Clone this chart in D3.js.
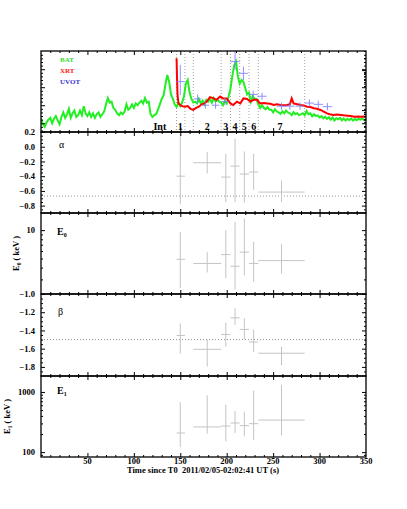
<!DOCTYPE html>
<html><head><meta charset="utf-8">
<script src="https://cdn.jsdelivr.net/npm/d3@7"></script>
<style>body{margin:0;background:#fff}svg{display:block}</style>
</head><body><svg id="c" width="407" height="509"></svg>
<script>
// ---------- data ----------
const batBin = 2; // s
const batRate = [1.25,0.95,0.8,1.05,1.2,1.3,1.0,1.25,1.4,1.15,0.95,
 1.35,1.6,1.3,1.5,1.8,1.3,1.55,1.7,1.35,1.45,
 1.7,1.45,1.95,1.55,1.4,1.6,1.35,1.55,1.3,1.5,
 1.6,1.35,1.5,1.65,2.05,2.4,2.15,2.2,1.85,1.75,
 1.55,1.45,1.6,1.5,1.65,2.05,1.75,1.85,2.05,1.85,
 2.1,2.0,2.15,2.25,2.1,2.4,2.15,2.2,1.5,1.35,
 1.45,1.5,1.75,2.05,2.35,2.55,3.15,3.68,3.3,2.6,
 2.35,2.05,1.9,2.15,1.95,2.15,2.5,3.2,3.4,2.7,
 2.35,2.15,2.2,2.1,2.35,2.1,2.25,2.05,2.3,2.2,
 2.35,2.15,2.4,2.2,2.3,2.2,2.15,2.0,2.25,2.1,
 2.48,2.9,3.6,4.2,4.42,3.6,3.2,3.4,3.3,2.94,
 2.6,2.7,2.2,2.5,2.35,2.35,2.05,1.85,2.0,1.85,
 1.78,1.9,1.75,1.75,1.6,1.78,1.65,1.6,1.52,1.66,
 1.55,1.7,1.6,1.55,1.45,1.62,1.5,1.55,1.44,1.5,
 1.56,1.45,1.68,1.5,1.55,1.38,1.5,1.4,1.44,1.32,
 1.4,1.27,1.36,1.24,1.33,1.2,1.32,1.15,1.28,1.22,
 1.3,1.16,1.27,1.15,1.25,1.17,1.27,1.15,1.24,1.17,
 1.25,1.2,1.26,1.17,1.22];

const xrtTime = [146,146.5,147,148,150,152,155,158,161,164,167,170,173,176,178.5,182,186,189,193,196,200,204,207,211,214.6,218,222,225.5,229,232.7,236,240,243.5,247,250.7,254,258,262,265,268,270,272,276,279.5,283,286.7,290,294,297,301,304,308,311,315,319,323,326,330,334,337,341,344,347,350];
const xrtRate = [4.61,3.5,2.6,2.1,2.01,1.95,1.92,1.95,1.8,1.74,1.85,1.92,2.05,2.1,2.2,2.45,2.38,2.3,2.48,2.38,2.38,2.1,2.01,2.2,2.1,2.38,2.35,2.2,2.3,2.3,2.1,2.12,2.1,2.08,2.01,2.05,2.01,2.0,2.01,2.05,2.38,2.1,2.05,2.01,1.98,1.92,1.9,1.83,1.8,1.74,1.66,1.55,1.5,1.46,1.48,1.46,1.44,1.42,1.4,1.36,1.38,1.36,1.37,1.36];

const uvotTime = [150,168.7,177,188,198,209,218,228.5,238,259,268,279,289,298.6,308.5];
const uvotTerr = [4.5,4,4,4,4,5,5,5,5,5,5,5,5,5,5];
const uvotRate = [3.31,2.35,2.0,2.0,2.2,4.42,3.77,2.6,2.5,1.95,1.95,1.95,2.12,2.05,1.92];
const uvotLo = [2.57,2.1,1.8,1.8,2.0,3.96,3.4,2.4,2.3,1.75,1.75,1.75,1.92,1.85,1.72];
const uvotHi = [4.24,2.6,2.2,2.2,2.4,5.0,4.15,2.8,2.7,2.15,2.15,2.15,2.32,2.25,2.12];

const intervalEdges = [146,155,164,194,204,214,224,234,284];
const intervalLabels = ["Int","1","2","3","4","5","6","7"];
const intervalLabelTime = [128,150,179,199,209,219,229,257.5];

const specTime = [150,179,199,209,219,229,259];
const specTlo = [146,164,194,204,214,224,234];
const specThi = [155,194,204,214,224,234,284];
const alpha = [-0.40,-0.218,-0.412,-0.263,-0.371,-0.344,-0.616];
const alphaLo = [-0.78,-0.363,-0.752,-0.752,-0.76,-0.585,-0.752];
const alphaHi = [0.163,-0.072,-0.099,0.109,-0.064,-0.095,-0.458];
const e0 = [4.9,4.43,5.5,4.14,5.84,4.43,4.75];
const e0Lo = [2.43,3.55,3.1,2.34,3.32,2.82,3.46];
const e0Hi = [9.6,5.84,10,12.2,13.3,7.5,7.1];
const beta = [-1.455,-1.607,-1.444,-1.262,-1.389,-1.527,-1.65];
const betaLo = [-1.654,-1.796,-1.578,-1.338,-1.498,-1.637,-1.782];
const betaHi = [-1.324,-1.498,-1.316,-1.157,-1.266,-1.389,-1.578];
const e1 = [208,262,272,305,275,297,341];
const e1Lo = [121,203,151,208,184,158,191];
const e1Hi = [676,883,611,481,468,1050,1303];

const alphaRef = -0.67, betaRef = -1.5;
const xTickVals = [50,100,150,200,250,300,350];
const alphaTicks = [0.2,0.0,-0.2,-0.4,-0.6,-0.8];
const betaTicks = [-1.0,-1.2,-1.4,-1.6,-1.8];
const e0Ticks = [10];
const e1Ticks = [100,1000];

// ---------- layout ----------
const svg = d3.select("#c");
const L = 41, R = 366;
const x = d3.scaleLinear().domain([0,350]).range([L,R]);
const panels = {
  top:[51,132], alpha:[132,213], e0:[213,294], beta:[294,376], e1:[376,457]
};
const font = "'Liberation Serif','DejaVu Serif',serif";
const gray = "#c4c4c4";

function xAxes(p){
  const [t,b] = panels[p];
  const minor = d3.range(10,350,10).filter(v=>v%50!==0);
  const major = [50,100,150,200,250,300];
  [[d3.axisBottom,b],[d3.axisTop,t]].forEach(([fn,y])=>{
    svg.append("g").attr("transform",`translate(0,${y})`)
      .call(fn(x).tickValues(major).tickSize(-4).tickFormat(""))
      .call(g=>g.select(".domain").remove());
    svg.append("g").attr("transform",`translate(0,${y})`)
      .call(fn(x).tickValues(minor).tickSize(-2).tickFormat(""))
      .call(g=>g.select(".domain").remove());
  });
}
function yAxes(p, y, major, minor, fmt, labels){
  [[d3.axisLeft,L],[d3.axisRight,R]].forEach(([fn,xx],i)=>{
    const g1 = svg.append("g").attr("transform",`translate(${xx},0)`)
      .call(fn(y).tickValues(major).tickSize(-4).tickPadding(6).tickFormat(i===0&&labels?fmt:""))
      .call(g=>g.select(".domain").remove());
    g1.selectAll("text").attr("font-family",font).attr("font-weight","bold").attr("font-size",8.5).attr("fill","#000");
    svg.append("g").attr("transform",`translate(${xx},0)`)
      .call(fn(y).tickValues(minor).tickSize(-2).tickFormat(""))
      .call(g=>g.select(".domain").remove());
  });
}

// ---------- top panel ----------
const yTop = d3.scaleLinear().domain([0.57,5.01]).range([131,51]);
const yTopR = d3.scaleLog().domain([0.3,30]).range([131,51]);
svg.append("clipPath").attr("id","clipTop").append("rect")
  .attr("x",L).attr("y",51).attr("width",R-L).attr("height",81);
const gTop = svg.append("g").attr("clip-path","url(#clipTop)");

gTop.selectAll("line.iv").data(intervalEdges).join("line")
  .attr("x1",d=>x(d)).attr("x2",d=>x(d)).attr("y1",51).attr("y2",132)
  .attr("stroke","#777").attr("stroke-width",0.7).attr("stroke-dasharray","1,2");

const batLine = d3.line().x((d,i)=>x(i*batBin)).y(d=>yTop(d));
gTop.append("path").datum(batRate).attr("d",batLine)
  .attr("fill","none").attr("stroke","#22ee22").attr("stroke-width",2);

const xrtLine = d3.line().x((d,i)=>x(xrtTime[i])).y(d=>yTop(d));
gTop.append("path").datum(xrtRate).attr("d",xrtLine)
  .attr("fill","none").attr("stroke","#ff0000").attr("stroke-width",2);

const uv = gTop.append("g").attr("stroke","#7c7cff").attr("stroke-width",1).attr("opacity",0.85);
uvotTime.forEach((t,i)=>{
  uv.append("line").attr("x1",x(t-uvotTerr[i])).attr("x2",x(t+uvotTerr[i]))
    .attr("y1",yTop(uvotRate[i])).attr("y2",yTop(uvotRate[i]));
  uv.append("line").attr("x1",x(t)).attr("x2",x(t))
    .attr("y1",yTop(uvotLo[i])).attr("y2",yTop(uvotHi[i]));
});

svg.selectAll("text.iv").data(intervalLabels).join("text")
  .attr("x",(d,i)=>x(intervalLabelTime[i])).attr("y",130)
  .attr("text-anchor","middle").attr("font-family",font).attr("font-weight","bold")
  .attr("font-size",10).text(d=>d);

const legend = [["BAT","#33dd33"],["XRT","#ff2020"],["UVOT","#3535d0"]];
legend.forEach(([t,c],i)=>{
  svg.append("text").attr("x",60).attr("y",62+i*11).attr("fill",c)
    .attr("font-family",font).attr("font-weight","bold").attr("font-size",7).text(t);
});

xAxes("top");
yAxes("top", yTop, [1,2,3,4], d3.range(0.6,5.0,0.2).filter(v=>Math.abs(v-Math.round(v))>0.05), null, false);
svg.append("g").attr("transform",`translate(${R},0)`)
  .call(d3.axisLeft(yTopR).tickValues([1,10]).tickSize(4).tickFormat(""))
  .call(g=>g.select(".domain").remove());
svg.append("g").attr("transform",`translate(${R},0)`)
  .call(d3.axisLeft(yTopR).tickValues([0.4,0.5,0.6,0.7,0.8,0.9,2,3,4,5,6,7,8,9,20,30]).tickSize(2).tickFormat(""))
  .call(g=>g.select(".domain").remove());

// ---------- parameter panels ----------
function errPanel(p, y, val, lo, hi){
  const g = svg.append("g").attr("stroke",gray).attr("stroke-width",1);
  specTime.forEach((t,i)=>{
    g.append("line").attr("x1",x(specTlo[i])).attr("x2",x(specThi[i]))
      .attr("y1",y(val[i])).attr("y2",y(val[i]));
    g.append("line").attr("x1",x(t)).attr("x2",x(t))
      .attr("y1",y(lo[i])).attr("y2",y(hi[i]));
  });
}
function refLine(y, v){
  svg.append("line").attr("x1",L).attr("x2",R).attr("y1",y(v)).attr("y2",y(v))
    .attr("stroke","#777").attr("stroke-width",0.8).attr("stroke-dasharray","1,2");
}

const yA = d3.scaleLinear().domain([-0.9,0.2]).range([213,132]);
refLine(yA, alphaRef);
errPanel("alpha", yA, alpha, alphaLo, alphaHi);
xAxes("alpha");
yAxes("alpha", yA, alphaTicks, d3.range(-0.85,0.2,0.05).filter(v=>Math.abs(v*5-Math.round(v*5))>0.05), d3.format(".1f"), true);

const yE0 = d3.scaleLog().domain([2.1,15.2]).range([294,213]);
errPanel("e0", yE0, e0, e0Lo, e0Hi);
xAxes("e0");
yAxes("e0", yE0, e0Ticks, [3,4,5,6,7,8,9], d3.format("d"), true);

const yB = d3.scaleLinear().domain([-1.9,-1.0]).range([376,294]);
refLine(yB, betaRef);
errPanel("beta", yB, beta, betaLo, betaHi);
xAxes("beta");
yAxes("beta", yB, betaTicks, d3.range(-1.85,-1.0,0.05).filter(v=>Math.abs(v*5-Math.round(v*5))>0.05), d3.format(".1f"), true);

const yE1 = d3.scaleLog().domain([83,1840]).range([457,376]);
errPanel("e1", yE1, e1, e1Lo, e1Hi);
xAxes("e1");
yAxes("e1", yE1, e1Ticks, [90,200,300,400,500,600,700,800,900], d3.format("d"), true);

// x tick labels
svg.append("g").selectAll("text").data(xTickVals).join("text")
  .attr("x",d=>x(d)).attr("y",464).attr("text-anchor","middle")
  .attr("font-family",font).attr("font-weight","bold").attr("font-size",8.5).text(d=>d);
svg.append("text").attr("x",203).attr("y",473).attr("text-anchor","middle")
  .attr("font-family",font).attr("font-weight","bold").attr("font-size",8.5)
  .attr("xml:space","preserve").style("white-space","pre")
  .text("Time since T0\u00a0 2011/02/05-02:02:41 UT (s)");

// frames
Object.values(panels).forEach(([t,b])=>{
  svg.append("rect").attr("x",L).attr("y",t).attr("width",R-L).attr("height",b-t)
    .attr("fill","none").attr("stroke","#000").attr("stroke-width",1.3);
});
svg.selectAll(".tick line").attr("stroke","#000").attr("stroke-width",1);

// panel labels
function panelLabel(px, py, main, sub, bold){
  const t = svg.append("text").attr("x",px).attr("y",py).attr("font-family",font)
    .attr("font-size",10).attr("font-weight",bold?"bold":"normal");
  t.append("tspan").text(main);
  if(sub) t.append("tspan").attr("font-size",6).attr("dy",2).text(sub);
}
panelLabel(59,148,"α",null,false);
panelLabel(57,235,"E","0",true);
panelLabel(58,315,"β",null,false);
panelLabel(57,394,"E","1",true);

function yTitle(px, py, sub){
  const t = svg.append("text").attr("transform",`translate(${px},${py}) rotate(-90)`)
    .attr("text-anchor","middle").attr("font-family",font).attr("font-weight","bold").attr("font-size",8.5);
  t.append("tspan").text("E");
  t.append("tspan").attr("font-size",5.5).attr("dy",2).text(sub);
  t.append("tspan").attr("dy",-2).text(" ( keV )");
}
yTitle(19,253.5,"0");
yTitle(10,416.5,"1");
</script></body></html>
